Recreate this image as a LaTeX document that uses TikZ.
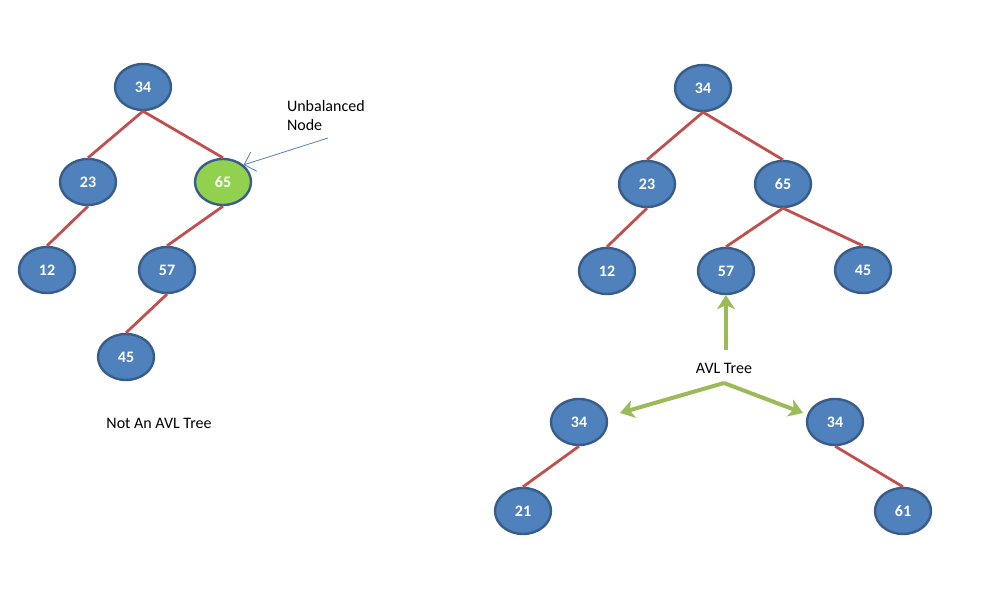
\documentclass[tikz,border=0pt]{standalone}
\usepackage{fontspec}
\setmainfont{Carlito}
\usetikzlibrary{shapes.geometric,arrows.meta}
\definecolor{keyblue}{RGB}{79,129,189}
\definecolor{keyrim}{RGB}{56,93,138}
\definecolor{keygreen}{RGB}{146,208,80}
\definecolor{edgered}{RGB}{192,80,77}
\definecolor{avlgreen}{RGB}{155,187,89}
\tikzset{
	key/.style={ellipse, draw=keyrim, fill=keyblue, line width=1.2pt, minimum width=28pt, minimum height=23pt, inner sep=0pt, text=white, font=\fontsize{8}{9}\selectfont\bfseries},
	edge/.style={draw=edgered, line width=1.4pt},
	avl/.style={draw=avlgreen, line width=2pt, -{Stealth[length=7pt,width=9pt,inset=2pt]}},
	caption/.style={font=\fontsize{8}{9.5}\selectfont}
}
\begin{document}
\begin{tikzpicture}[x=0.5pt,y=-0.5pt]
	\useasboundingbox (0,0) rectangle (992,598);
	% not balanced
	\node [key] (a34) at (143,87) {34};
	\node [key] (a23) at (88,182) {23};
	\node [key, fill=keygreen] (a65) at (223,182) {65};
	\node [key] (a12) at (47,270) {12};
	\node [key] (a57) at (167,270) {57};
	\node [key] (a45) at (126,357) {45};
	\draw [edge] (a34.south) -- (a23.north);
	\draw [edge] (a34.south) -- (a65.north);
	\draw [edge] (a23.south) -- (a12.north);
	\draw [edge] (a65.south) -- (a57.north);
	\draw [edge] (a57.south) -- (a45.north);
	\node [caption, align=left, anchor=north west] (unbal) at (280,93) {Unbalanced\\Node};
	\coordinate (unbaltail) at (328,138);
	\draw [keyblue, thin, -{Straight Barb[length=5pt]}] (unbaltail) -- (a65.north east);
	\node [caption] (notavl) at (159,423) {Not An AVL Tree};
	% balanced
	\node [key] (b34) at (703,88) {34};
	\node [key] (b23) at (647,184) {23};
	\node [key] (b65) at (783,184) {65};
	\node [key] (b12) at (607,271) {12};
	\node [key] (b57) at (726,271) {57};
	\node [key] (b45) at (863,270) {45};
	\draw [edge] (b34.south) -- (b23.north);
	\draw [edge] (b34.south) -- (b65.north);
	\draw [edge] (b23.south) -- (b12.north);
	\draw [edge] (b65.south) -- (b57.north);
	\draw [edge] (b65.south) -- (b45.north);
	\node [key] (c34) at (579,422) {34};
	\node [key] (c21) at (523,511) {21};
	\draw [edge] (c34.south) -- (c21.north);
	\node [key] (d34) at (835,422) {34};
	\node [key] (d61) at (903,511) {61};
	\draw [edge] (d34.south) -- (d61.north);
	\node [caption] (avltree) at (724,368) {AVL Tree};
	\coordinate (stem) at (726,350);
	\coordinate (fork) at (724,383);
	\draw [avl] (stem) -- (b57.south);
	\draw [avl] (fork) -- (620,413);
	\draw [avl] (fork) -- (803,413);
\end{tikzpicture}
\end{document}
